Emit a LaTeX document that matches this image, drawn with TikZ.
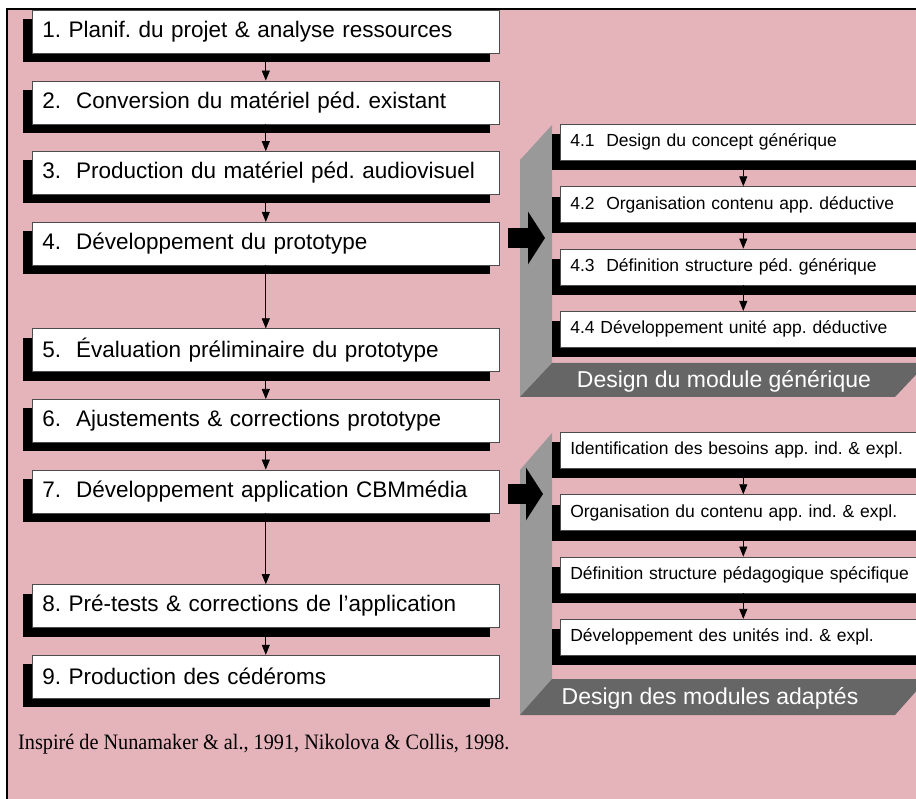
\documentclass[tikz,border=0pt]{standalone}
\usepackage{fontspec}
\setmainfont{Liberation Serif}
\newfontfamily\arialfont{Liberation Sans}
\newfontfamily\sourcefont[FakeStretch=0.92]{Liberation Serif}
\usetikzlibrary{positioning,shadows,arrows.meta}

\definecolor{rose}{RGB}{229,180,187}
\definecolor{sidegray}{RGB}{153,153,153}
\definecolor{bargray}{RGB}{102,102,102}

\tikzset{
  basebox/.style={draw=black!70, line width=0.6pt, fill=white, anchor=north west,
    inner xsep=10pt, inner ysep=0pt, align=left},
  stepbox/.style={basebox, minimum height=43pt, text width=447pt,
    font=\arialfont\fontsize{22.5}{24}\selectfont,
    drop shadow={shadow xshift=-9pt, shadow yshift=-9pt, fill=black, opacity=1}},
  subbox/.style={basebox, minimum height=36pt, text width=346pt,
    font=\arialfont\fontsize{17.5}{19}\selectfont,
    drop shadow={shadow xshift=-8.5pt, shadow yshift=-10pt, fill=black, opacity=1}},
  flow/.style={-{Triangle[length=10pt,width=8pt]}, line width=0.7pt},
  bigarrow/.style={-{Triangle[length=17pt,width=52pt]}, line width=20pt},
  bartext/.style={text=white, font=\arialfont\fontsize{23}{25}\selectfont}
}

\begin{document}
\frenchspacing
\begin{tikzpicture}[x=1pt, y=-1pt, node distance=27pt]

% frame
\useasboundingbox (0,0) rectangle (916,799);
\clip (0,0) rectangle (916,799);
\fill[white] (0,0) rectangle (916,799);
\fill[rose] (7,9) rectangle (916,799);
\draw[line width=2pt] (7,799) -- (7,9) -- (916,9);

% panels
\fill[sidegray] (520,160) -- (552,125) -- (552,363) -- (520,397) -- cycle;
\fill[bargray] (520,397) -- (552,363) -- (927,363) -- (895,397) -- cycle;
\node[bartext] (gen) at (724,381) {Design du module générique};
\fill[sidegray] (520,470) -- (552,433) -- (552,679) -- (520,715) -- cycle;
\fill[bargray] (520,715) -- (552,679) -- (927,679) -- (895,715) -- cycle;
\node[bartext] (ada) at (710,698) {Design des modules adaptés};

% steps
\node[stepbox] (s1) at (32,10) {1. Planif. du projet \& analyse ressources};
\node[stepbox, below=of s1] (s2) {2.\ \ Conversion du matériel péd. existant};
\node[stepbox, below=of s2] (s3) {3.\ \ Production du matériel péd. audiovisuel};
\node[stepbox, below=of s3] (s4) {4.\ \ Développement du prototype};
\node[stepbox, below=63pt of s4] (s5) {5.\ \ Évaluation préliminaire du prototype};
\node[stepbox, below=of s5] (s6) {6.\ \ Ajustements \& corrections prototype};
\node[stepbox, below=of s6] (s7) {7.\ \ Développement application CBMmédia};
\node[stepbox, below=71pt of s7] (s8) {8. Pré-tests \& corrections de l’application};
\node[stepbox, below=of s8] (s9) {9. Production des cédéroms};

% generic module
\node[subbox] (g1) at (560,124) {4.1\ \ Design du concept générique};
\node[subbox, below=25.7pt of g1] (g2) {4.2\ \ Organisation contenu app. déductive};
\node[subbox, below=25.7pt of g2] (g3) {4.3\ \ Définition structure péd. générique};
\node[subbox, below=25.7pt of g3] (g4) {4.4 Développement unité app. déductive};

% adapted modules
\node[subbox] (a1) at (560,432) {Identification des besoins app. ind. \& expl.};
\node[subbox, below=25.7pt of a1] (a2) {Organisation du contenu app. ind. \& expl.};
\node[subbox, below=25.7pt of a2] (a3) {Définition structure pédagogique spécifique};
\node[subbox, below=25.7pt of a3] (a4) {Développement des unités ind. \& expl.};

\node[anchor=west, inner sep=0pt, font=\sourcefont\fontsize{22}{24}\selectfont] (src) at (18,744)
  {Inspiré de Nunamaker \& al., 1991, Nikolova \& Collis, 1998.};

% arrows
\draw[flow] (s1.south) -- (s2.north);
\draw[flow] (s2.south) -- (s3.north);
\draw[flow] (s3.south) -- (s4.north);
\draw[flow] (s4.south) -- (s5.north);
\draw[flow] (s5.south) -- (s6.north);
\draw[flow] (s6.south) -- (s7.north);
\draw[flow] (s7.south) -- (s8.north);
\draw[flow] (s8.south) -- (s9.north);
\draw[flow] (g1.south) -- (g2.north);
\draw[flow] (g2.south) -- (g3.north);
\draw[flow] (g3.south) -- (g4.north);
\draw[flow] (a1.south) -- (a2.north);
\draw[flow] (a2.south) -- (a3.north);
\draw[flow] (a3.south) -- (a4.north);

\coordinate (t1) at (545,238);
\coordinate (t2) at (543,494);
\draw[bigarrow] ([xshift=8pt]s4.east |- t1) -- (t1);
\draw[bigarrow] ([xshift=8pt]s7.east |- t2) -- (t2);
\end{tikzpicture}
\end{document}
